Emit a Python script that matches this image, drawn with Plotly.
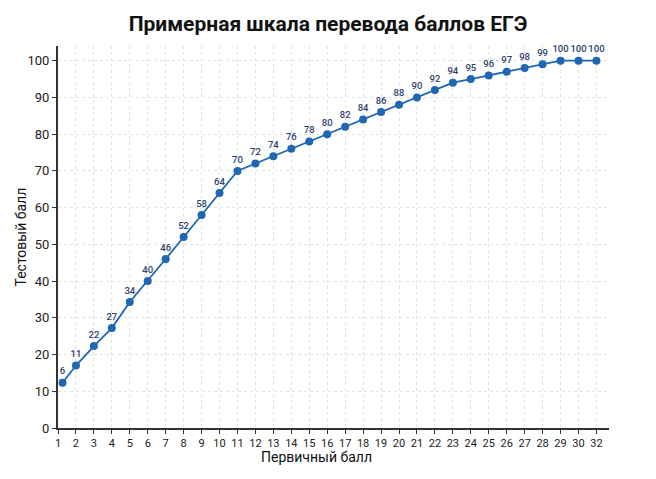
import plotly.graph_objects as go

# Data
x_pos = [1.25] + list(range(2, 32))
y_vals = [12.3, 17, 22.3, 27.2, 34.3, 40, 46, 52, 58, 64, 70, 72, 74, 76, 78, 80,
          82, 84, 86, 88, 90, 92, 94, 95, 96, 97, 98, 99, 100, 100, 100]
point_labels = ["6", "11", "22", "27", "34", "40", "46", "52", "58", "64", "70", "72",
                "74", "76", "78", "80", "82", "84", "86", "88", "90", "92", "94", "95",
                "96", "97", "98", "99", "100", "100", "100"]
x_tickvals = list(range(1, 32))
x_ticktext = [str(i) for i in range(1, 31)] + ["32"]
y_tickvals = list(range(0, 101, 10))

FONT = "Roboto, sans-serif"

fig = go.Figure()
fig.add_trace(go.Scatter(
    x=x_pos, y=y_vals, mode="lines+markers+text",
    text=point_labels, textposition="top center",
    textfont=dict(family=FONT, size=9.5, color="#2b3f6c", weight=500),
    line=dict(color="#1f66b3", width=1.8),
    marker=dict(color="#1f66b3", size=8),
    cliponaxis=False, showlegend=False,
))

fig.update_layout(
    width=656, height=479,
    margin=dict(l=58, r=47, t=46, b=51),
    paper_bgcolor="white", plot_bgcolor="white",
    title=dict(text="<b>Примерная шкала перевода баллов ЕГЭ</b>",
               x=0.5, xanchor="center", y=0.95, yanchor="middle",
               font=dict(family=FONT, size=21, color="#111111")),
    font=dict(family=FONT, size=13, color="#222222"),
)
fig.update_xaxes(
    range=[1, 31.7], tickvals=x_tickvals, ticktext=x_ticktext,
    showgrid=True, gridcolor="#e2e2e2", griddash="dot", gridwidth=1,
    showline=True, linecolor="#333333", linewidth=2,
    ticks="outside", ticklen=4, tickcolor="#333333", tickwidth=1,
    tickfont=dict(family=FONT, size=11, color="#222222"),
    zeroline=False,
)
fig.update_yaxes(
    range=[0, 104], tickvals=y_tickvals,
    showgrid=True, gridcolor="#e2e2e2", griddash="dot", gridwidth=1,
    showline=True, linecolor="#333333", linewidth=2,
    ticks="outside", ticklen=4, tickcolor="#333333", tickwidth=1,
    tickfont=dict(family=FONT, size=13, color="#222222"),
    zeroline=False,
)
fig.add_annotation(text="Первичный балл", xref="paper", yref="paper",
                   x=0.47, y=-0.075, xanchor="center", yanchor="middle",
                   showarrow=False, font=dict(family=FONT, size=14, color="#111111"))
fig.add_annotation(text="Тестовый балл", xref="paper", yref="paper",
                   x=-0.068, y=0.5, xanchor="center", yanchor="middle", textangle=-90,
                   showarrow=False, font=dict(family=FONT, size=14, color="#111111"))

fig.write_html("out.html")
